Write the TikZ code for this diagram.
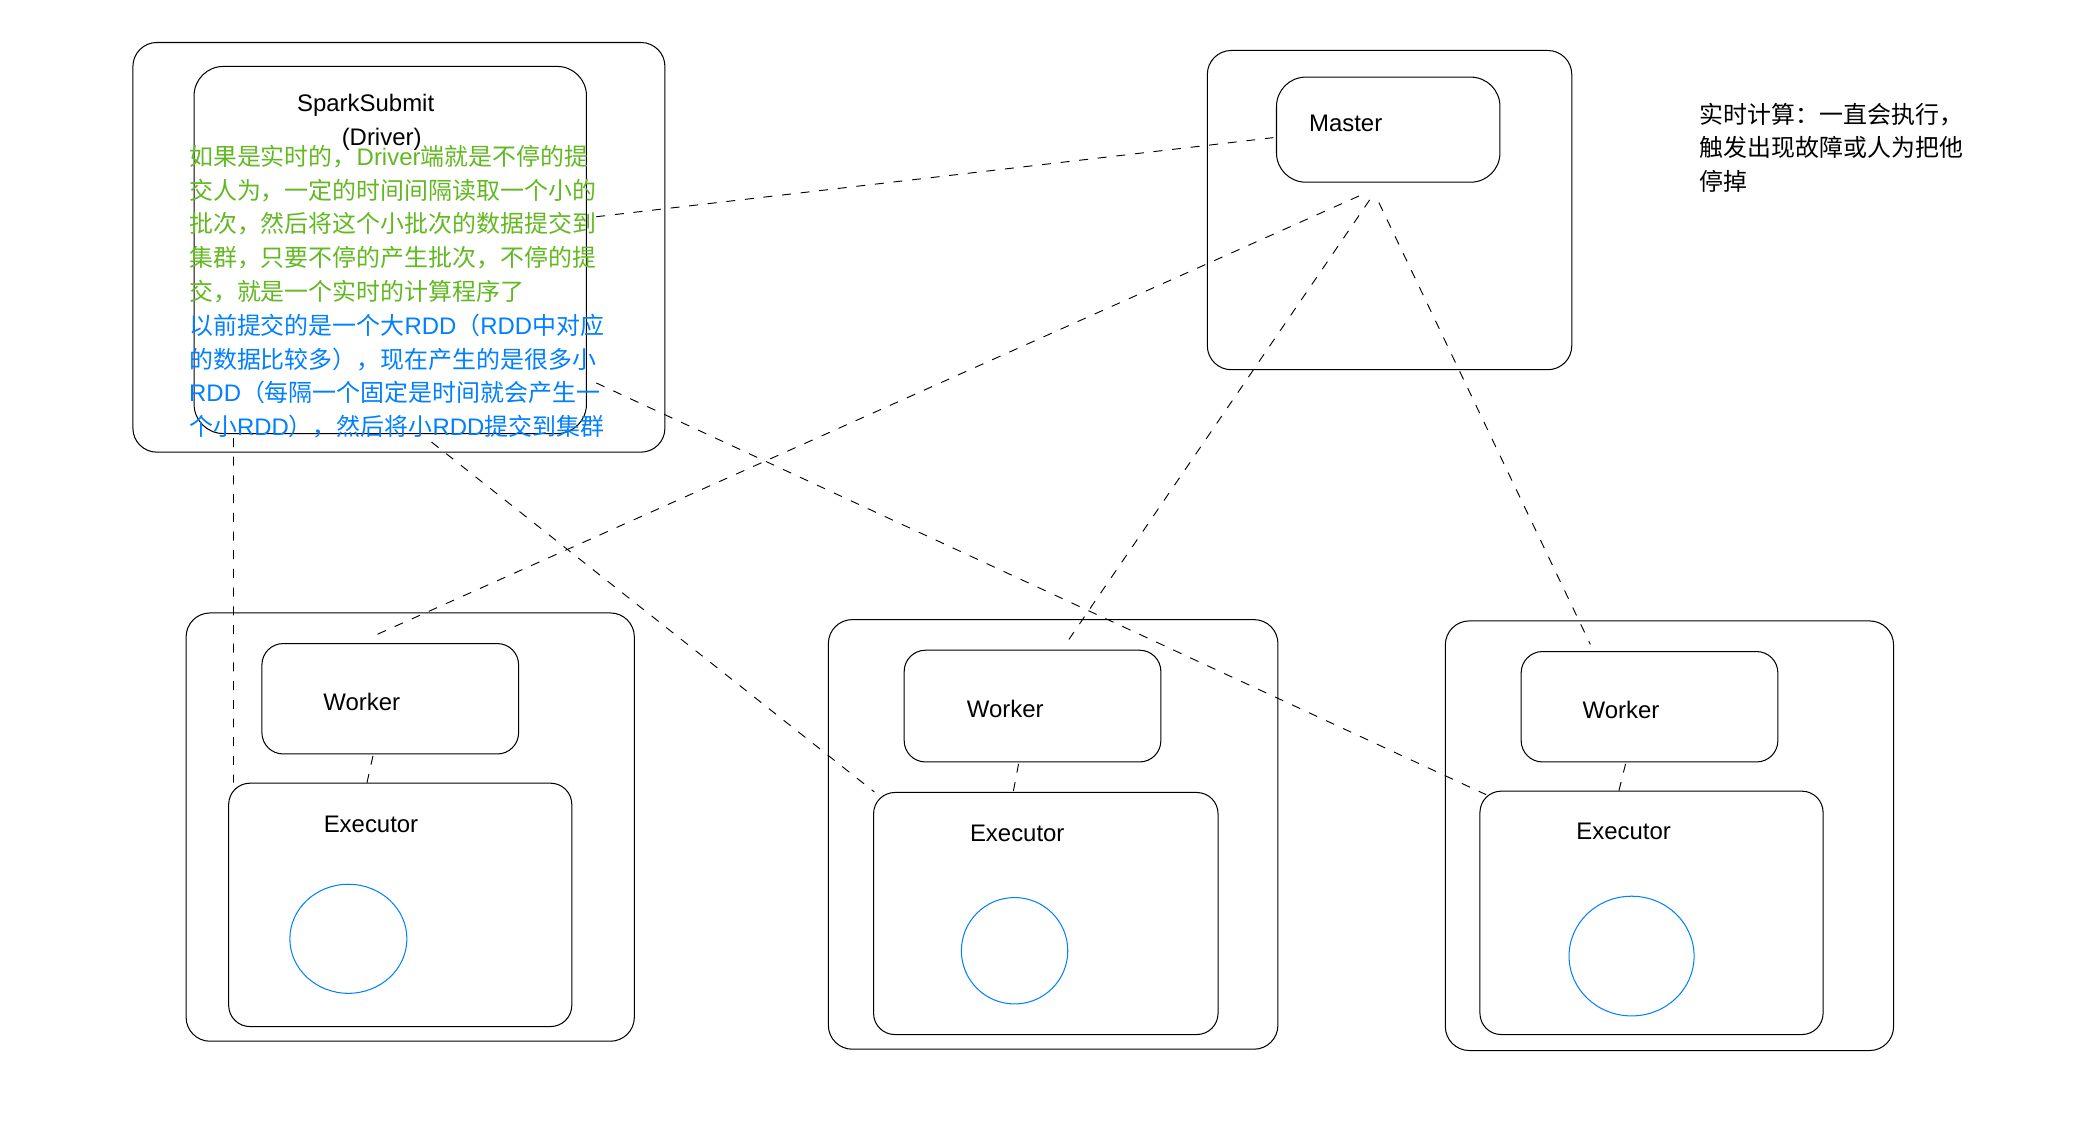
\documentclass[tikz,border=0pt]{standalone}
\usepackage{fontspec}
\setmainfont{Liberation Sans}
\newfontfamily\cjk{Noto Sans CJK SC}
\newfontfamily\latin{Liberation Sans}
\usepackage{xcolor}
\usepackage{tikz}
\usetikzlibrary{shapes.geometric, positioning, calc}
\definecolor{notegreen}{RGB}{98,184,34}
\definecolor{noteblue}{RGB}{0,127,255}
\tikzstyle{outerbox} = [rectangle, rounded corners=0.45cm, draw=black, line width=0.55pt]
\tikzstyle{innerbox} = [rectangle, rounded corners=0.4cm, draw=black, line width=0.55pt]
\tikzstyle{lbl} = [font=\fontsize{12.8pt}{18pt}\selectfont, inner sep=0pt]
\tikzstyle{note} = [font=\cjk\fontsize{12.8pt}{18pt}\selectfont, inner sep=0pt, align=left, anchor=north west]
\tikzstyle{rdd} = [ellipse, draw=noteblue, line width=0.55pt, inner sep=0pt]
\tikzstyle{link} = [line width=0.5pt, dash pattern=on 4.8pt off 5.2pt]

\begin{document}
\begin{tikzpicture}[x=0.025cm, y=-0.025cm]
\useasboundingbox (0,0) rectangle (1568,860);

% driver
\node (drvout) [outerbox, minimum width=10cm, minimum height=7.7cm] at (300,186) {};
\node (drvin) [innerbox, rounded corners=0.55cm, minimum width=7.375cm, minimum height=6.9cm] at (293.5,188) {};
\node (drvname) [lbl, align=center] at (275,92) {SparkSubmit\\\hspace*{0.6cm}(Driver)};
\node (rtnote) [note, text=notegreen] at (142,109) {如果是实时的，{\latin Driver}端就是不停的提\\交人为，一定的时间间隔读取一个小的\\批次，然后将这个小批次的数据提交到\\集群，只要不停的产生批次，不停的提\\交，就是一个实时的计算程序了};
\node (rddnote) [note, text=noteblue] at (142,236) {以前提交的是一个大{\latin RDD}（{\latin RDD}中对应\\的数据比较多），现在产生的是很多小\\{\latin RDD}（每隔一个固定是时间就会产生一\\个小{\latin RDD}），然后将小{\latin RDD}提交到集群};

% master
\node (mstout) [outerbox, minimum width=6.85cm, minimum height=6cm] at (1045,158) {};
\node (mstin) [innerbox, rounded corners=0.55cm, minimum width=4.2cm, minimum height=1.975cm] at (1044,97.5) {};
\node (mstname) [lbl] at ($(mstin)+(-32,-4.5)$) {Master};
\node (sidenote) [note] at (1278,77) {实时计算：一直会执行，\\触发出现故障或人为把他\\停掉};

% workers
\node (w1out) [outerbox, minimum width=8.425cm, minimum height=8.05cm] at (308.5,622) {};
\node (w1) [innerbox, minimum width=4.825cm, minimum height=2.075cm] at (293.5,525.5) {};
\node (w1name) [lbl] at ($(w1)+(-21.5,2.5)$) {Worker};
\node (e1) [innerbox, minimum width=6.45cm, minimum height=4.575cm] at (301,680.5) {};
\node (e1name) [lbl] at ($(e1.north)+(-22,31)$) {Executor};
\node (rdd1) [rdd, minimum width=2.2cm, minimum height=2.05cm] at (262,706) {};

\node (w2out) [outerbox, minimum width=8.45cm, minimum height=8.075cm] at (792,627.5) {};
\node (w2) [innerbox, minimum width=4.825cm, minimum height=2.1cm] at (776.5,531) {};
\node (w2name) [lbl] at ($(w2)+(-20.5,2)$) {Worker};
\node (e2) [innerbox, minimum width=6.475cm, minimum height=4.55cm] at (786.5,687) {};
\node (e2name) [lbl] at ($(e2.north)+(-21.5,31)$) {Executor};
\node (rdd2) [rdd, minimum width=2cm, minimum height=2cm] at (763,715) {};

\node (w3out) [outerbox, minimum width=8.425cm, minimum height=8.075cm] at (1255.5,628.5) {};
\node (w3) [innerbox, minimum width=4.825cm, minimum height=2.075cm] at (1240.5,531.5) {};
\node (w3name) [lbl] at ($(w3)+(-21.5,2.5)$) {Worker};
\node (e3) [innerbox, minimum width=6.45cm, minimum height=4.575cm] at (1242,686.5) {};
\node (e3name) [lbl] at ($(e3.north)+(-21,31)$) {Executor};
\node (rdd3) [rdd, minimum width=2.35cm, minimum height=2.25cm] at (1227,719) {};

% dashed links
\draw [link] ($(drvin.east)+(7,-25)$) -- ($(mstin.west)+(-2,6)$);
\draw [link] ($(mstin.south)+(-22,10)$) -- ($(w1.north)+(-15.5,-4)$);
\draw [link] ($(mstin.south)+(-14,13)$) -- ($(w2.north)+(25.5,-5)$);
\draw [link] ($(mstin.south)+(-7,15)$) -- ($(w3.north)+(-44.5,-5)$);
\draw [link] ($(drvin.east)+(7,100)$) -- ($(e3.north west)+(5,3)$);
\draw [link] ($(drvin.south)+(31,6)$) -- ($(e2.north west)+(1,0)$);
\draw [link] ($(drvin.south west)+(30,3)$) -- ($(e1.north west)+(4,0)$);
\draw [link] ($(w1.south)+(-13,1)$) -- ($(e1.north)+(-25,0)$);
\draw [link] ($(w2.south)+(-10.5,1)$) -- ($(e2.north)+(-24.5,0)$);
\draw [link] ($(w3.south)+(-18,1)$) -- ($(e3.north)+(-24.5,0)$);
\end{tikzpicture}
\end{document}
